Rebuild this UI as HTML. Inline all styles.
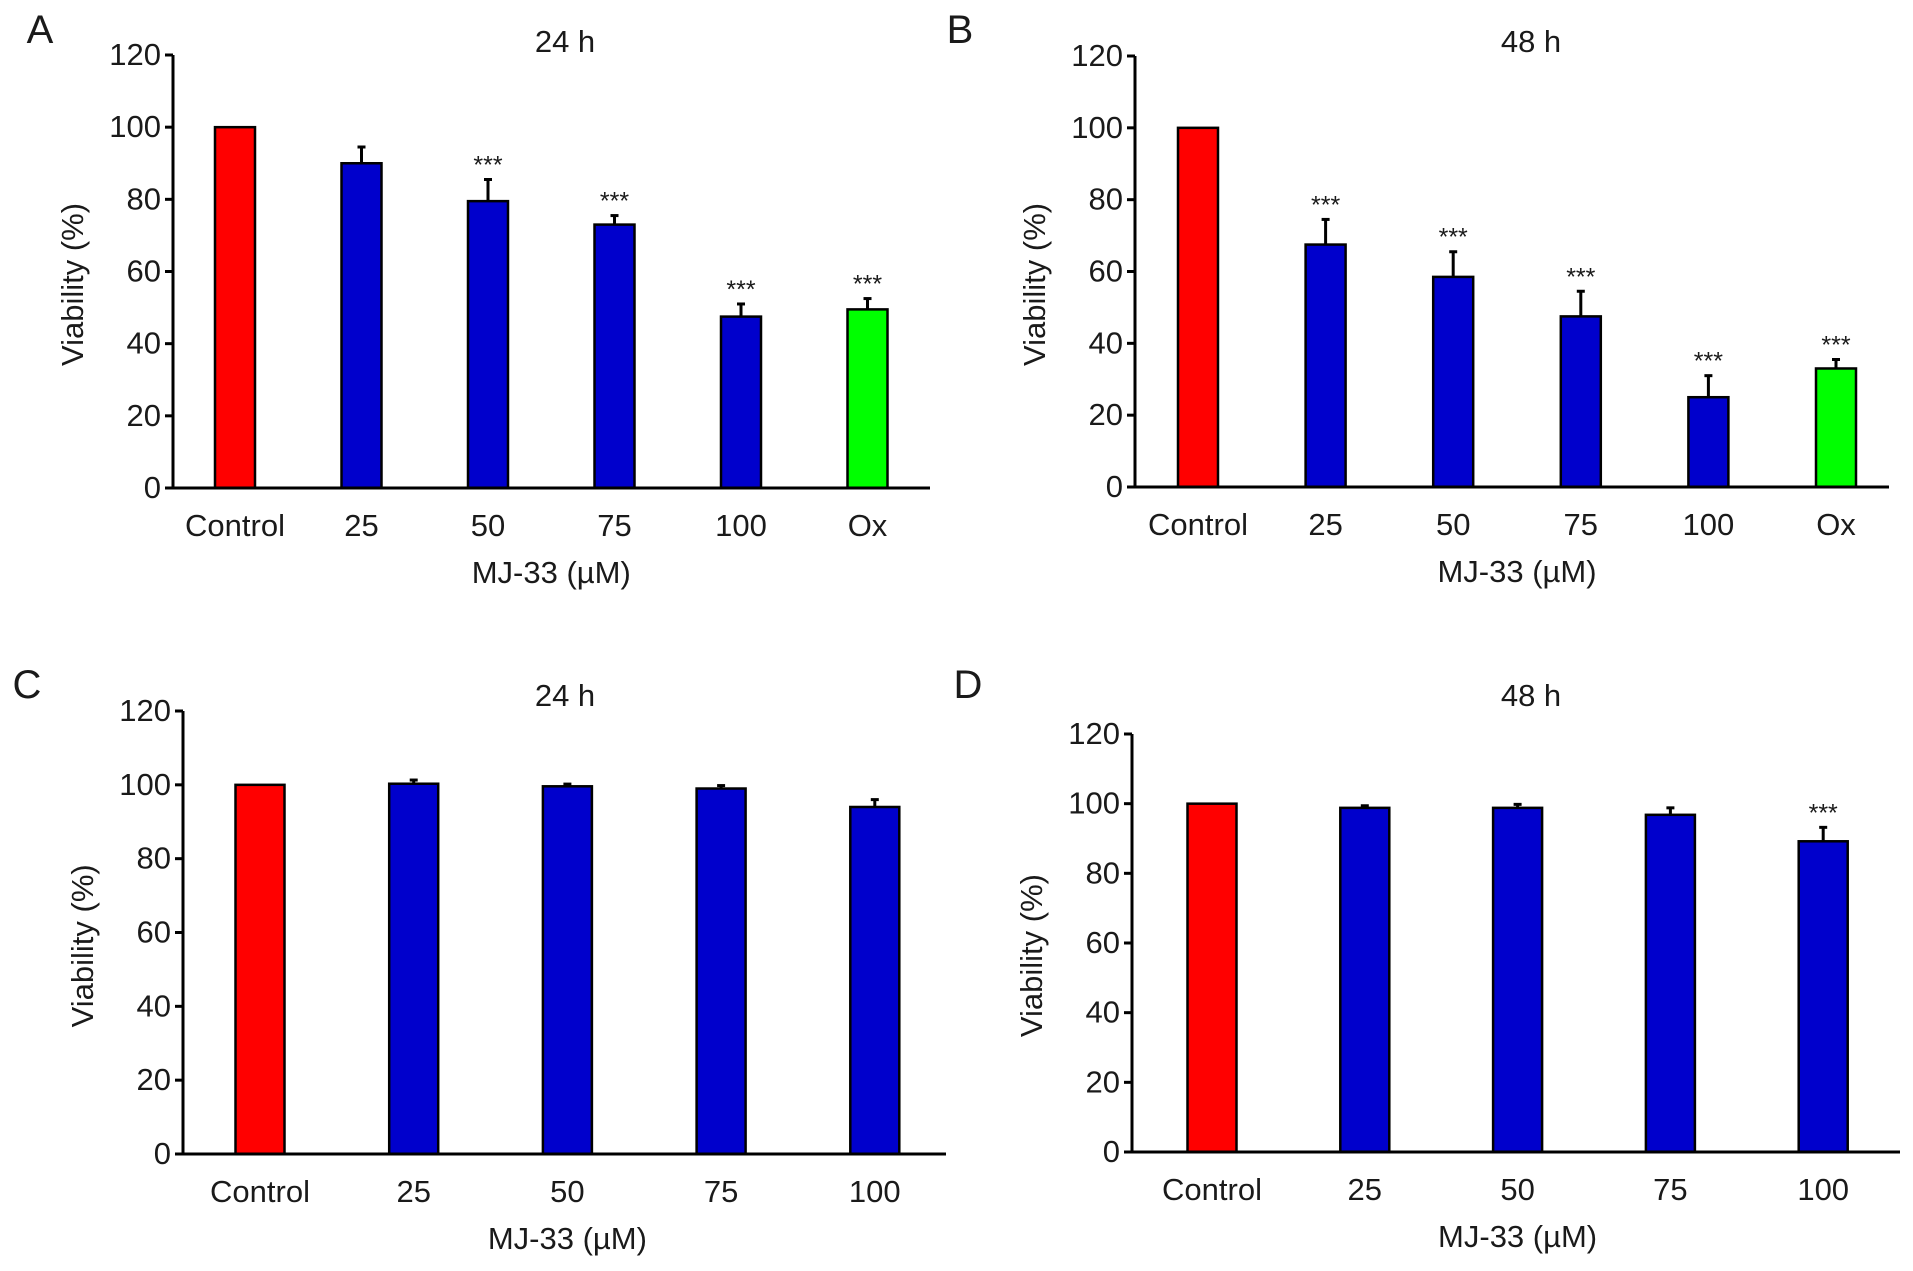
<!DOCTYPE html>
<html><head><meta charset="utf-8">
<style>
html,body{margin:0;padding:0;background:#fff;}
svg{display:block;}
text{font-family:"Liberation Sans Narrow","Liberation Sans",sans-serif;fill:#1a1a1a;}
</style></head>
<body>
<svg id="fig" width="1913" height="1271" viewBox="0 0 1913 1271" xmlns="http://www.w3.org/2000/svg"></svg>
<script>
const catsAB = ["Control","25","50","75","100","Ox"];
const catsCD = ["Control","25","50","75","100"];
const valsA = [100, 90, 79.5, 73, 47.5, 49.5];
const errA  = [0, 4.5, 6, 2.5, 3.5, 3];
const starA = [false,false,true,true,true,true];
const valsB = [100, 67.5, 58.5, 47.5, 25, 33];
const errB  = [0, 7, 7, 7, 6, 2.5];
const starB = [false,true,true,true,true,true];
const valsC = [100, 100.3, 99.6, 99, 94];
const errC  = [0, 1, 0.6, 0.8, 2];
const starC = [false,false,false,false,false];
const valsD = [100, 98.8, 98.8, 96.8, 89.2];
const errD  = [0, 0.6, 1, 2, 4];
const starD = [false,false,false,false,true];
const yTicks = [0,20,40,60,80,100,120];

const NS = "http://www.w3.org/2000/svg";
const svg = document.getElementById('fig');
function mk(tag, attrs, parent){const e=document.createElementNS(NS,tag);for(const k in attrs)e.setAttribute(k,attrs[k]);(parent||svg).appendChild(e);return e;}

const panels = [
 {id:"a",label:"A",title:"24 h",cats:catsAB,vals:valsA,err:errA,star:starA,ax:173,xEnd:930,yTop:55,yBot:488,c0:235,step:126.5,bw:40,lx:40,ly:43,tx:565,ty:52},
 {id:"b",label:"B",title:"48 h",cats:catsAB,vals:valsB,err:errB,star:starB,ax:1135,xEnd:1889,yTop:56,yBot:487,c0:1198,step:127.6,bw:40,lx:960,ly:43,tx:1531,ty:52},
 {id:"c",label:"C",title:"24 h",cats:catsCD,vals:valsC,err:errC,star:starC,ax:183,xEnd:946,yTop:711,yBot:1154,c0:260,step:153.7,bw:49,lx:27,ly:698,tx:565,ty:706},
 {id:"d",label:"D",title:"48 h",cats:catsCD,vals:valsD,err:errD,star:starD,ax:1132,xEnd:1900,yTop:734,yBot:1152,c0:1212,step:152.8,bw:49,lx:968,ly:698,tx:1531,ty:706}
];

panels.forEach(p=>{
  const g = mk('g',{});
  
  
  const y = v => p.yBot - (v/120)*(p.yBot-p.yTop);
  const x = i => p.c0 + i*p.step;
  const lab = mk('text',{x:p.lx,y:p.ly,'font-size':40,'text-anchor':'middle','font-family':'Liberation Sans, sans-serif'},g);
  lab.textContent=p.label;
  
  
  const t = mk('text',{x:p.tx,y:p.ty,'font-size':31,'text-anchor':'middle'},g);
  t.textContent=p.title;
  
  
  p.vals.forEach((v,i)=>{
    const col = i===0?'#ff0000':(p.cats[i]==="Ox"?'#00ff00':'#0000cc');
    const top=y(v), cx=x(i);
    if(p.err[i]>0){
      const et=y(v+p.err[i]);
      const l=mk('line',{x1:cx,x2:cx,y1:top,y2:et,stroke:'#000','stroke-width':3},g);
      
      
      mk('line',{x1:cx-4,x2:cx+4,y1:et,y2:et,stroke:'#000','stroke-width':3},g);
    }
    const r=mk('rect',{x:cx-p.bw/2,y:top,width:p.bw,height:p.yBot-top,fill:col,stroke:'#000','stroke-width':2.5},g);
    
    
    if(p.star[i]){
      const s=mk('text',{x:cx,y:y(v+p.err[i])-6,'font-size':25,'text-anchor':'middle'},g);
      s.textContent='***';
      
      
    }
    const cl=mk('text',{x:cx,y:p.yBot+48,'font-size':31,'text-anchor':'middle'},g);
    cl.textContent=p.cats[i];
    
    
  });
  const ya=mk('line',{x1:p.ax,x2:p.ax,y1:p.yTop,y2:p.yBot+1.5,stroke:'#000','stroke-width':3},g);
  
  
  const xa=mk('line',{x1:p.ax-8,x2:p.xEnd,y1:p.yBot,y2:p.yBot,stroke:'#000','stroke-width':3},g);
  
  
  yTicks.forEach(tv=>{
    mk('line',{x1:p.ax-8,x2:p.ax,y1:y(tv),y2:y(tv),stroke:'#000','stroke-width':3},g);
    const tl=mk('text',{x:p.ax-12,y:y(tv)+10,'font-size':31,'text-anchor':'end'},g);
    tl.textContent=tv;
    
    
  });
  const cxMid=(x(0)+x(p.cats.length-1))/2;
  const xt=mk('text',{x:cxMid,y:p.yBot+95,'font-size':31,'text-anchor':'middle'},g);
  xt.textContent='MJ-33 (\u00b5M)';
  
  
  const ymid=(p.yTop+p.yBot)/2+(p.yBot-p.yTop)*0.03;
  const yt=mk('text',{x:0,y:0,'font-size':31,'text-anchor':'middle',transform:`translate(${p.ax-90},${ymid}) rotate(-90)`,'font-family':'Liberation Sans, sans-serif'},g);
  yt.textContent='Viability (%)';
  
  
});
</script>
</body></html>
